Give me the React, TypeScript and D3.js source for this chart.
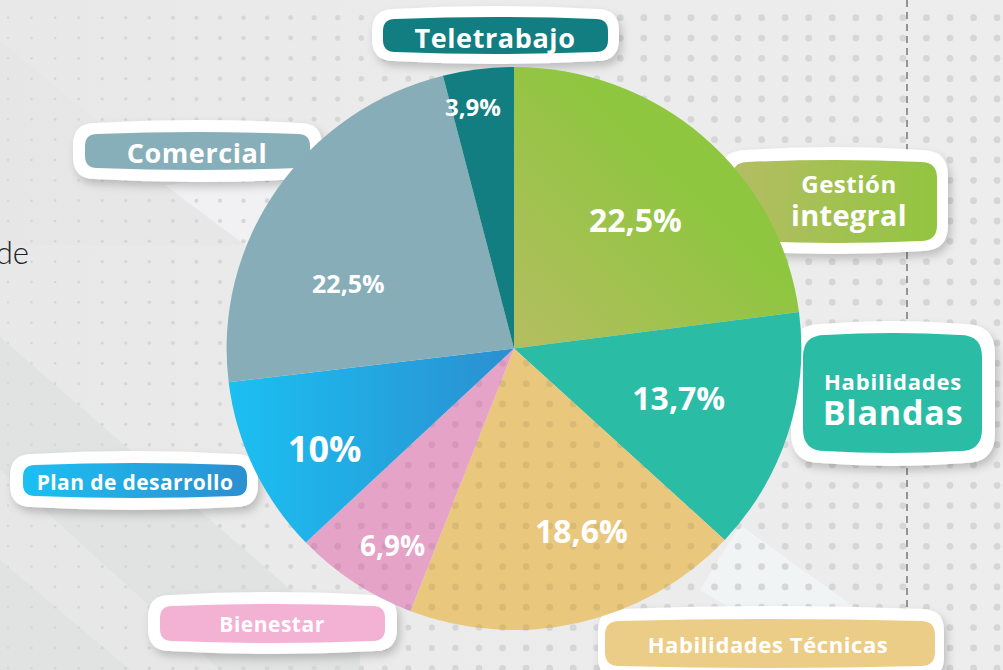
import React from "react";
import * as d3 from "d3";

// data
const categories = ["Gestión integral", "Habilidades Blandas", "Habilidades Técnicas", "Bienestar", "Plan de desarrollo", "Comercial", "Teletrabajo"];
const values = [22.5, 13.7, 18.6, 6.9, 10, 22.5, 3.9];
const boxLines = [["Gestión", "integral"], ["Habilidades", "Blandas"], ["Habilidades Técnicas"], ["Bienestar"], ["Plan de desarrollo"], ["Comercial"], ["Teletrabajo"]];

// layout / styles
const W = 1003, H = 670;
const CX = 514, CY = 348.5, R = 281.5, SX = 1.021;
const sliceFill = ["url(#gGest)", "#2bbca6", "#e9c87d", "#e6a3c8", "url(#gPlan)", "#87aeb8", "#137e82"];
// position of % text inside slice: t = fraction of slice angle, r = fraction of radius
const pctPos = [
  { t: 0.52, r: 0.62, size: 32 },
  { t: 0.49, r: 0.6, size: 32 },
  { t: 0.4, r: 0.69, size: 32 },
  { t: 0.39, r: 0.82, size: 28 },
  { t: 0.41, r: 0.75, size: 36 },
  { t: 0.345, r: 0.62, size: 25 },
  { t: 0.34, r: 0.87, size: 24 },
];
const boxes = [
  { inner: [732, 160, 937, 243], ir: 16, outer: [720, 147, 948, 254], or: 26, fill: "url(#gGestBox)", cx: 849, base: [193, 226], sizes: [24, 29], ls: [0.5, 0.3] },
  { inner: [803, 333, 982, 453], ir: 22, outer: [791, 321, 995, 466], or: 30, fill: "#2bbca6", cx: 893, base: [390, 425], sizes: [22, 34], ls: [0.8, 0.8] },
  { inner: [605, 619, 935, 668], ir: 14, outer: [598, 606, 944, 682], or: 22, fill: "#eccd87", cx: 768, base: [653], sizes: [22], ls: [0.6] },
  { inner: [160, 604, 385, 643], ir: 12, outer: [148, 592, 397, 654], or: 22, fill: "#f3b1d4", cx: 272, base: [632], sizes: [21], ls: [0.5] },
  { inner: [23, 463, 247, 498], ir: 12, outer: [10, 451, 258, 510], or: 22, fill: "url(#gPlanBox)", cx: 135, base: [490], sizes: [21], ls: [0.4] },
  { inner: [85, 132, 310, 170], ir: 12, outer: [73, 120, 322, 182], or: 22, fill: "#87afb9", cx: 197, base: [163], sizes: [27], ls: [0.6] },
  { inner: [383, 17, 608, 54], ir: 12, outer: [372, 6, 619, 64], or: 22, fill: "#137e82", cx: 495, base: [48], sizes: [27], ls: [0.6] },
];

function pill([x0, y0, x1, y1]: number[], r: number, b = 2) {
  const p = d3.path();
  const xm = (x0 + x1) / 2;
  p.moveTo(x0 + r, y0 + b);
  p.quadraticCurveTo(xm, y0 - b, x1 - r, y0 + b);
  p.quadraticCurveTo(x1, y0 + b, x1, y0 + b + r);
  p.lineTo(x1, y1 - b - r);
  p.quadraticCurveTo(x1, y1 - b, x1 - r, y1 - b);
  p.quadraticCurveTo(xm, y1 + b, x0 + r, y1 - b);
  p.quadraticCurveTo(x0, y1 - b, x0, y1 - b - r);
  p.lineTo(x0, y0 + b + r);
  p.quadraticCurveTo(x0, y0 + b, x0 + r, y0 + b);
  p.closePath();
  return p.toString();
}

const fmt = (v: number) => String(v).replace(".", ",") + "%";

export default function App() {
  const pie = d3.pie<number>().sort(null).value((d) => d);
  const arcs = pie(values);
  const arc = d3.arc<d3.PieArcDatum<number>>().innerRadius(0).outerRadius(R);
  const pieT = `translate(${CX},${CY}) scale(${SX},1)`;

  // background dot grid
  const dots: { x: number; y: number; r: number }[] = [];
  for (let y = 17.7; y < H; y += 20.33) {
    for (let x = 8; x < W; x += 23.55) {
      dots.push({ x, y, r: Math.min(3.4, 1.1 + x * 0.0045) });
    }
  }

  return (
    <svg width={W} height={H} style={{ position: "fixed", left: 0, top: 0 }} fontFamily="'Open Sans', sans-serif">
      <defs>
        {/* pie gradients live in the pie group's coordinates (origin = centre) */}
        <linearGradient id="gGest" gradientUnits="userSpaceOnUse" x1={-10} y1={10} x2={170} y2={-170}>
          <stop offset="0" stopColor="#b7bd63" />
          <stop offset="1" stopColor="#8ec63f" />
        </linearGradient>
        <linearGradient id="gPlan" gradientUnits="userSpaceOnUse" x1={-R} y1={0} x2={0} y2={0}>
          <stop offset="0" stopColor="#1bc0f2" />
          <stop offset="1" stopColor="#2b8fd1" />
        </linearGradient>
        <linearGradient id="gGestBox" x1="0" y1="0" x2="1" y2="0">
          <stop offset="0" stopColor="#b4bd63" />
          <stop offset="1" stopColor="#92c540" />
        </linearGradient>
        <linearGradient id="gPlanBox" x1="0" y1="0" x2="1" y2="0">
          <stop offset="0" stopColor="#1bc0f2" />
          <stop offset="1" stopColor="#2c8fd0" />
        </linearGradient>
        <linearGradient id="gBg" x1="0" y1="0" x2="1" y2="0">
          <stop offset="0" stopColor="#e8e8e8" />
          <stop offset="0.4" stopColor="#ebebeb" />
          <stop offset="1" stopColor="#ededed" />
        </linearGradient>
        <filter id="shadow" x="-20%" y="-30%" width="140%" height="180%">
          <feDropShadow dx="3" dy="5" stdDeviation="4" floodColor="#000" floodOpacity="0.2" />
        </filter>
        <clipPath id="dotSlices">
          {[2, 3].map((i) => (
            <path key={i} d={arc(arcs[i]) || ""} transform={pieT} />
          ))}
        </clipPath>
      </defs>

      {/* background */}
      <rect width={W} height={H} fill="url(#gBg)" />
      <polygon points="0,40 245,245 0,245" fill="#e6e6e6" opacity={0.7} />
      <polygon points="165,185 300,170 245,245" fill="#f1f1f3" />
      <polygon points="0,337 360,650 360,670 0,670" fill="#dfe0e0" opacity={0.8} />
      <polygon points="0,470 220,670 130,670 0,560" fill="#e9e9e9" opacity={0.8} />
      <polygon points="700,590 740,525 900,640 800,650" fill="#f1f4f5" />
      {dots.map((d, i) => (
        <circle key={i} cx={d.x} cy={d.y} r={d.r} fill="#d6d6d6" />
      ))}
      <line x1={907} x2={907} y1={0} y2={H} stroke="#5a5a5a" strokeWidth={1.2} strokeDasharray="7 5" />
      <text x={29} y={264} textAnchor="end" fontFamily="Lato, sans-serif" fontWeight={300} fontSize={31} fill="#222">de</text>

      {/* category boxes */}
      {boxes.map((b, i) => (
        <g key={categories[i]}>
          <path d={pill(b.outer, b.or, 3)} fill="#fff" filter="url(#shadow)" />
          <path d={pill(b.inner, b.ir, 2)} fill={b.fill} />
          {boxLines[i].map((ln, j) => (
            <text key={j} x={b.cx} y={b.base[j]} textAnchor="middle" fontWeight={700} fontSize={b.sizes[j]} letterSpacing={b.ls[j]} fill="#fff">
              {ln}
            </text>
          ))}
        </g>
      ))}

      {/* pie */}
      <g transform={pieT}>
        {arcs.map((a, i) => (
          <path key={i} d={arc(a) || ""} fill={sliceFill[i]} />
        ))}
      </g>
      <g clipPath="url(#dotSlices)">
        {dots.map((d, i) => (
          <circle key={i} cx={d.x} cy={d.y} r={3.4} fill="#000" opacity={0.065} />
        ))}
      </g>

      {/* percentage labels */}
      {arcs.map((a, i) => {
        const p = pctPos[i];
        const ang = a.startAngle + p.t * (a.endAngle - a.startAngle);
        const rr = p.r * R;
        const x = CX + Math.sin(ang) * rr * SX;
        const y = CY - Math.cos(ang) * rr;
        return (
          <text key={i} x={x} y={y + p.size * 0.36} textAnchor="middle" fontWeight={700} fontSize={p.size} fill="#fff">
            {fmt(a.data)}
          </text>
        );
      })}
    </svg>
  );
}
